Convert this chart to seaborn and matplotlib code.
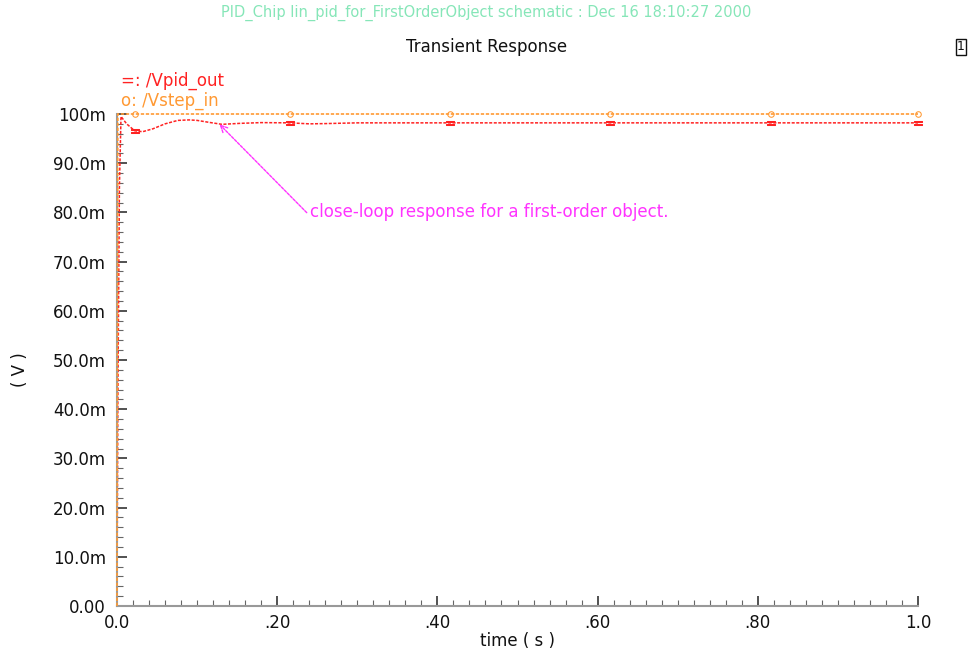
import numpy as np
import matplotlib
matplotlib.use("Agg")
import matplotlib.pyplot as plt
import seaborn as sns
from matplotlib.ticker import MultipleLocator, FixedLocator, FixedFormatter

# ---- data ----
t_pid = [0, 0.001, 0.003, 0.005, 0.012, 0.022, 0.032, 0.045, 0.06, 0.076, 0.09, 0.1,
         0.115, 0.131, 0.154, 0.18, 0.216, 0.24, 0.26, 0.3, 0.416, 0.616, 0.816, 1.0]
v_pid = [0, 0.040, 0.085, 0.0995, 0.0980, 0.0966, 0.0964, 0.0970, 0.0980, 0.0987, 0.0988, 0.0987,
         0.0983, 0.0979, 0.0981, 0.09825, 0.0982, 0.0980, 0.09805, 0.0982, 0.0982, 0.0982, 0.0982, 0.0982]
pid_marks = [5, 16, 20, 21, 22, 23]

t_step = [0, 0.001, 0.022, 0.216, 0.416, 0.616, 0.816, 1.0]
v_step = [0, 0.100, 0.100, 0.100, 0.100, 0.100, 0.100, 0.100]
step_marks = [2, 3, 4, 5, 6, 7]

x_ticks = [0.0, 0.2, 0.4, 0.6, 0.8, 1.0]
x_labels = ["0.0", ".20", ".40", ".60", ".80", "1.0"]
y_ticks = [0.0, 0.01, 0.02, 0.03, 0.04, 0.05, 0.06, 0.07, 0.08, 0.09, 0.10]
y_labels = ["0.00", "10.0m", "20.0m", "30.0m", "40.0m", "50.0m", "60.0m", "70.0m", "80.0m", "90.0m", "100m"]

header = "PID_Chip lin_pid_for_FirstOrderObject schematic : Dec 16 18:10:27 2000"
title = "Transient Response"
annot = "close-loop response for a first-order object."

RED = "#ff2222"
ORANGE = "#ff9933"
MAGENTA = "#ff33ff"
GREEN = "#86e6b8"

sns.set_style("white")
plt.rcParams['font.family'] = ['DejaVu Sans']

fig = plt.figure(figsize=(9.73, 6.55), dpi=100)
ax = fig.add_axes([117/973, 1-606/655, (918-117)/973, (606-114)/655])

sns.lineplot(x=t_step, y=v_step, ax=ax, color=ORANGE, linestyle=(0, (2, 1)), linewidth=1.2,
             estimator=None, sort=False, marker="o", markersize=4, markerfacecolor="none",
             markeredgecolor=ORANGE, markevery=step_marks, clip_on=False, zorder=3)
sns.lineplot(x=t_pid, y=v_pid, ax=ax, color=RED, linestyle=(0, (2, 1)), linewidth=1.1,
             estimator=None, sort=False, marker="$=$", markersize=6,
             markeredgecolor=RED, markevery=pid_marks, clip_on=False, zorder=2)

ax.set_xlim(0, 1.0)
ax.set_ylim(0, 0.1)
ax.xaxis.set_major_locator(FixedLocator(x_ticks))
ax.xaxis.set_major_formatter(FixedFormatter(x_labels))
ax.yaxis.set_major_locator(FixedLocator(y_ticks))
ax.yaxis.set_major_formatter(FixedFormatter(y_labels))
ax.xaxis.set_minor_locator(MultipleLocator(0.02))
ax.yaxis.set_minor_locator(MultipleLocator(0.002))

for s in ["top", "right"]:
    ax.spines[s].set_visible(False)
for s in ["left", "bottom"]:
    ax.spines[s].set_color("#999999")
    ax.spines[s].set_linewidth(1.5)

ax.tick_params(axis="both", which="both", bottom=True, left=True, top=False, right=False)
ax.tick_params(axis="both", which="major", direction="in", length=7, width=1.2,
               color="#333333", labelsize=12, labelcolor="#111111")
ax.tick_params(axis="both", which="minor", direction="in", length=4, width=0.8, color="#666666")
ax.tick_params(axis="y", which="major", pad=8)
ax.tick_params(axis="x", which="major", pad=6)

ax.set_xlabel("time ( s )", fontsize=12, color="#111111", labelpad=0)
ax.set_ylabel("")
fig.text(20/973, 1-370/655, "( V )", rotation=90, fontsize=12, color="#111111",
         ha="center", va="center")

fig.text(0.5, 1-13/655, header, fontsize=10.5, color=GREEN, ha="center", va="center")
fig.text(487/973, 1-47/655, title, fontsize=12, color="#111111", ha="center", va="center")
fig.text(961/973, 1-47/655, "1", fontsize=9, color="#111111", ha="center", va="center",
         bbox=dict(boxstyle="square,pad=0.1", facecolor="white", edgecolor="#111111", linewidth=1))

fig.text(121/973, 1-81/655, "=: /Vpid_out", fontsize=12, color=RED, ha="left", va="center")
fig.text(121/973, 1-101/655, "o: /Vstep_in", fontsize=12, color=ORANGE, ha="left", va="center")

ax.annotate(annot, xy=(0.128, 0.0979), xytext=(0.241, 0.080),
            fontsize=12, color=MAGENTA, ha="left", va="center",
            arrowprops=dict(arrowstyle="->", color=MAGENTA, linestyle=(0, (2, 1)),
                            linewidth=1, shrinkA=0, shrinkB=0, relpos=(0, 0.3)))

fig.savefig("out.png", dpi=100, facecolor="white")
